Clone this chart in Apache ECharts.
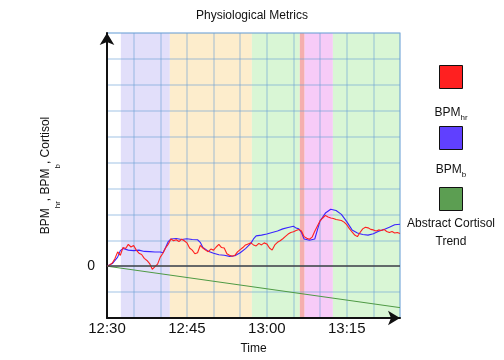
<!DOCTYPE html>
<html>
<head>
<meta charset="utf-8">
<script src="https://cdn.jsdelivr.net/npm/echarts@6/dist/echarts.min.js"></script>
<style>
  html, body { margin: 0; padding: 0; background: #fff; }
  #chart { width: 504px; height: 360px; }
</style>
</head>
<body>
<div id="chart"></div>
<script>
// minutes after 12:30
var tickLabels = { 0: '12:30', 15: '12:45', 30: '13:00', 45: '13:15' };

// background phases [start, end] in minutes
var bandStarts = [2.6, 11.8, 27.2, 36.2, 37.1, 42.4];
var bandEnds   = [11.8, 27.2, 36.2, 37.1, 42.4, 55];
var bandColors = ['#e2dffa', '#fdedcc', '#d9f6d5', '#f5aeae', '#f7cbf7', '#d9f6d5'];

// BPM_hr (red)
var hrData = [
  [0, 0], [0.5, 0.05], [1, 0.12], [1.5, 0.3], [2, 0.55], [2.5, 0.42], [3, 0.72], [3.5, 0.68],
  [4, 0.84], [4.5, 0.74], [5, 0.8], [5.5, 0.62], [6, 0.5], [6.5, 0.45], [7, 0.3], [7.5, 0.22],
  [8, 0.1], [8.5, -0.12], [9, -0.02], [9.5, 0.08], [10, 0.35], [10.5, 0.5], [11, 0.7], [11.5, 0.85],
  [12, 1.05], [12.5, 0.98], [13, 1.02], [13.5, 0.95], [14, 1.04], [14.5, 0.98], [15, 0.9], [15.5, 0.7],
  [16, 0.62], [16.5, 0.48], [17, 0.52], [17.5, 0.8], [18, 0.7], [18.5, 0.62], [19, 0.56], [19.5, 0.66],
  [20, 0.62], [20.5, 0.74], [21, 0.84], [21.5, 0.72], [22, 0.7], [22.5, 0.48], [23, 0.42], [23.5, 0.38],
  [24, 0.42], [24.5, 0.55], [25, 0.64], [25.5, 0.72], [26, 0.82], [26.5, 0.86], [27, 0.9], [27.5, 0.82],
  [28, 0.78], [28.5, 0.88], [29, 0.82], [29.5, 0.9], [30, 0.86], [30.5, 0.7], [31, 0.62], [31.5, 0.82],
  [32, 0.92], [32.5, 0.98], [33, 1.06], [33.5, 1.15], [34, 1.24], [34.5, 1.3], [35, 1.33], [35.5, 1.38],
  [36, 1.42], [36.5, 1.36], [37, 1.14], [37.5, 1.08], [38, 1.04], [38.5, 1.12], [39, 1.35], [39.5, 1.55],
  [40, 1.75], [40.5, 1.86], [41, 1.96], [41.5, 1.9], [42, 1.86], [42.5, 1.84], [43, 1.8], [43.5, 1.78],
  [44, 1.76], [44.5, 1.7], [45, 1.6], [45.5, 1.45], [46, 1.32], [46.5, 1.2], [47, 1.14], [47.5, 1.3],
  [48, 1.44], [48.5, 1.5], [49, 1.48], [49.5, 1.42], [50, 1.4], [50.5, 1.36], [51, 1.4], [51.5, 1.38],
  [52, 1.42], [52.5, 1.34], [53, 1.3], [53.5, 1.34], [54, 1.28], [54.5, 1.3], [55, 1.26]
];

// BPM_b (blue)
var bData = [
  [0, 0], [1, 0.1], [2, 0.35], [2.5, 0.6], [3, 0.68], [4, 0.62], [5, 0.6], [6, 0.62],
  [7, 0.57], [8, 0.56], [9, 0.55], [10, 0.55], [10.5, 0.52], [11, 0.72], [11.5, 0.95], [12, 1.05],
  [13, 1.07], [14, 1.03], [15, 1.06], [16, 1.03], [17, 1.02], [17.5, 0.92], [18, 0.72], [19, 0.58],
  [20, 0.5], [21, 0.44], [22, 0.42], [23, 0.38], [24, 0.4], [25, 0.52], [26, 0.68], [27, 0.88],
  [27.5, 1.05], [28, 1.17], [29, 1.2], [30, 1.24], [31, 1.3], [32, 1.36], [33, 1.44], [34, 1.49],
  [35, 1.54], [35.5, 1.47], [36, 1.44], [36.5, 1.3], [37, 1.05], [38, 1.0], [39, 1.05], [39.5, 1.4],
  [40, 1.75], [41, 2.05], [42, 2.2], [43, 2.15], [44, 2.0], [45, 1.72], [46, 1.4], [47, 1.28],
  [48, 1.22], [49, 1.2], [50, 1.25], [51, 1.35], [52, 1.42], [53, 1.5], [54, 1.6], [55, 1.62]
];

// abstract cortisol trend (green)
var cortisolData = [[0, 0], [55, -1.6]];

var chart = echarts.init(document.getElementById('chart'));

var bands = bandStarts.map(function (s, i) {
  return [{ xAxis: s, itemStyle: { color: bandColors[i] } }, { xAxis: bandEnds[i] }];
});

var legendItems = [
  { color: '#ff2020', y: 65, label: 'BPM{sub|hr}', ty: 104 },
  { color: '#6040ff', y: 126, label: 'BPM{sub|b}', ty: 161 },
  { color: '#5c9e52', y: 187, label: 'Abstract Cortisol\nTrend', ty: 215 }
];
var graphics = [];
legendItems.forEach(function (it) {
  graphics.push({
    type: 'rect', left: 439, top: it.y,
    shape: { width: 23, height: 23 },
    style: { fill: it.color, stroke: '#111', lineWidth: 1 }
  });
  graphics.push({
    type: 'text',
    style: {
      text: it.label, x: 451, y: it.ty, align: 'center',
      font: '12px "Liberation Sans", Arial', fill: '#111', lineHeight: 18,
      rich: { sub: { fontSize: 8, padding: [10, 0, 0, 0] } }
    }
  });
});

var gridLineColor = 'rgba(105,160,215,0.42)';

var option = {
  animation: false,
  title: {
    text: 'Physiological Metrics',
    left: 'center',
    top: 5,
    textStyle: { fontSize: 12, fontWeight: 'normal', color: '#111', fontFamily: 'Liberation Sans' }
  },
  grid: {
    left: 107, top: 33, right: 104, bottom: 40,
    show: true, borderColor: gridLineColor, borderWidth: 1.5, backgroundColor: 'transparent'
  },
  xAxis: {
    type: 'value',
    min: 0,
    max: 55,
    interval: 5,
    name: 'Time',
    nameLocation: 'middle',
    nameGap: 25,
    nameTextStyle: { fontSize: 12, color: '#111', fontFamily: 'Liberation Sans' },
    axisLine: {
      onZero: false,
      lineStyle: { color: '#111', width: 2 },
      symbol: ['none', 'arrow'],
      symbolSize: [11, 12]
    },
    axisTick: { show: false },
    axisLabel: {
      fontSize: 15, color: '#111', margin: 3, fontFamily: 'Liberation Sans',
      formatter: function (v) { return tickLabels[v] || ''; }
    },
    splitLine: { show: true, lineStyle: { color: gridLineColor, width: 1.5 } }
  },
  yAxis: {
    type: 'value',
    min: -2,
    max: 9,
    interval: 1,
    name: '{m|BPM}{sub|hr}{m|, BPM}{sub|b}{m|, Cortisol}',
    nameLocation: 'middle',
    nameGap: 45,
    nameTextStyle: {
      fontSize: 12, color: '#111', fontFamily: 'Liberation Sans',
      rich: {
        m: { fontSize: 12, verticalAlign: 'top', lineHeight: 14 },
        sub: { fontSize: 8, verticalAlign: 'bottom', lineHeight: 22 }
      }
    },
    axisLine: {
      lineStyle: { color: '#111', width: 2 },
      symbol: ['none', 'arrow'],
      symbolSize: [11, 12]
    },
    axisTick: { show: false },
    axisLabel: {
      fontSize: 14, color: '#111', margin: 12, fontFamily: 'Liberation Sans',
      formatter: function (v) { return v === 0 ? '0' : ''; }
    },
    splitLine: { show: true, lineStyle: { color: gridLineColor, width: 1.5 } }
  },
  graphic: graphics,
  series: [
    {
      name: 'bands',
      type: 'line',
      data: [],
      silent: true,
      markArea: { silent: true, z: -1, data: bands }
    },
    {
      name: 'Abstract Cortisol Trend',
      type: 'line',
      data: cortisolData,
      showSymbol: false,
      lineStyle: { color: '#4e9a44', width: 1 },
      markLine: {
        silent: true,
        symbol: 'none',
        label: { show: false },
        lineStyle: { color: '#444', width: 1.5, type: 'solid' },
        data: [{ yAxis: 0 }]
      }
    },
    {
      name: 'BPM_b',
      type: 'line',
      data: bData,
      showSymbol: false,
      lineStyle: { color: '#3a24ff', width: 1.1 }
    },
    {
      name: 'BPM_hr',
      type: 'line',
      data: hrData,
      showSymbol: false,
      lineStyle: { color: '#ff2020', width: 1.1 }
    }
  ]
};
chart.setOption(option);
</script>
</body>
</html>
